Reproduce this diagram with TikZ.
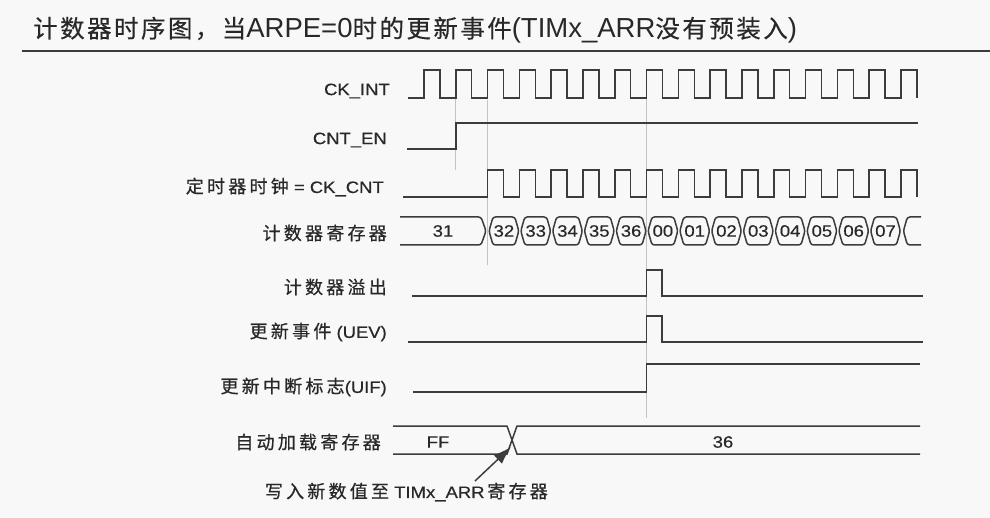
\documentclass[tikz,border=0pt]{standalone}
\usepackage{fontspec}
\setmainfont{Liberation Sans}
\newfontfamily\lblfont{Liberation Sans}[FakeStretch=1.12, FakeBold=0.4]
\newfontfamily\zhfont{Noto Sans CJK SC}[LetterSpace=18, FakeBold=0.6]
\newfontfamily\titlezhfont{Noto Sans CJK SC}[LetterSpace=10, FakeBold=0.4]
\newcommand\zl[1]{{\zhfont\fontsize{18}{20}\selectfont #1}}
\newcommand\tz[1]{{\titlezhfont\fontsize{24.5}{28}\selectfont #1}}
\usetikzlibrary{arrows.meta}
\definecolor{bgcol}{RGB}{248,248,248}
\definecolor{ink}{RGB}{60,60,60}
\definecolor{txt}{RGB}{40,40,40}
\definecolor{guide}{RGB}{195,195,195}

\begin{document}
\begin{tikzpicture}[x=1pt, y=-1pt,
    sig/.style={ink, line width=1.5pt},
    guideline/.style={guide, line width=0.8pt},
    lbl/.style={anchor=east, inner sep=0pt, text=txt, font=\lblfont\fontsize{16.5}{18}\selectfont},
    val/.style={inner sep=0pt, text=txt, font=\lblfont\fontsize{16.5}{18}\selectfont},
    regbox/.style={sig, rounded corners=2.5pt}]
    \def\T{31.8}
    \fill[bgcol] (0,0) rectangle (990,518);
    \useasboundingbox (0,0) rectangle (990,518);

    \node[anchor=west, inner sep=0pt, text=txt, font=\fontsize{27.5}{30}\selectfont] (title) at (33,30)
        {\tz{计数器时序图，当}ARPE=0\tz{时的更新事件}(TIMx\_ARR\tz{没有预装入})};
    \draw[ink, line width=2.5pt] (22,51) -- (990,51);

    \node[lbl] (ckint) at (390,91) {CK\_INT};
    \node[lbl] (cnten) at (387,140) {CNT\_EN};
    \node[lbl] (ckcnt) at (384,187) {\zl{定时器时钟} = CK\_CNT};
    \node[lbl] (cntreg) at (387,233) {\zl{计数器寄存器}};
    \node[lbl] (ovf) at (387,287) {\zl{计数器溢出}};
    \node[lbl] (uev) at (387,332) {\zl{更新事件} (UEV)};
    \node[lbl] (uif) at (387,387) {\zl{更新中断标志}(UIF)};
    \node[lbl] (arr) at (381,442) {\zl{自动加载寄存器}};
    \node[lbl] (note) at (548,492) {\zl{写入新数值至} TIMx\_ARR\,\zl{寄存器}};

    \draw[guideline] ({424+\T},97) -- ({424+\T},170);
    \draw[guideline] ({424+2*\T},100) -- ({424+2*\T},265);
    \draw[guideline] ({424+7*\T},95) -- ({424+7*\T},418);

    \draw[sig] (408,98) -- (424,98)
        \foreach \k in {0,...,15} { -- ({424+\k*\T},98) -- ({424+\k*\T},70) -- ({424+(\k+0.5)*\T},70) -- ({424+(\k+0.5)*\T},98) };
    \draw[sig] (407,149) -- ({424+\T},149) -- ({424+\T},123) -- (918,123);
    \draw[sig] (403,197)
        \foreach \k in {2,...,15} { -- ({424+\k*\T},197) -- ({424+\k*\T},170) -- ({424+(\k+0.5)*\T},170) -- ({424+(\k+0.5)*\T},197) };

    \draw[regbox] (400,217) -- (481,217) -- (486,231) -- (481,245) -- (400,245);
    \node[val] (v31) at (443,231) {31};
    \foreach \v [count=\i from 0] in {32,33,34,35,36,00,01,02,03,04,05,06,07} {
        \pgfmathsetmacro\xa{488+\i*\T}
        \draw[regbox] (\xa+1,231) -- (\xa+5,217) -- (\xa+\T-5,217) -- (\xa+\T-1,231) -- (\xa+\T-5,245) -- (\xa+5,245) -- cycle;
        \node[val] (v\i) at (\xa+\T/2,231) {\v};
    }
    \draw[regbox] (921,217) -- ({488+13*\T+6},217) -- ({488+13*\T+2},231) -- ({488+13*\T+6},245) -- (921,245);

    \draw[sig] (412,296) -- ({424+7*\T},296) -- ({424+7*\T},270) -- (662,270) -- (662,296) -- (923,296);
    \draw[sig] (408,342) -- ({424+7*\T},342) -- ({424+7*\T},316) -- (662,316) -- (662,342) -- (923,342);
    \draw[sig] (413,392) -- ({424+7*\T},392) -- ({424+7*\T},364) -- (920,364);

    \draw[sig] (393,426) -- (507,426) -- (517,454) -- (920,454);
    \draw[sig] (393,454) -- (507,454) -- (517,426) -- (920,426);
    \node[val] (ffval) at (438,442) {FF};
    \node[val] (newval) at (723,442) {36};

    \coordinate (wrtail) at (475,481);
    \coordinate (wrtip) at (511,447);
    \draw[sig, -{Latex[length=18pt,width=12pt]}] (wrtail) -- (wrtip);
\end{tikzpicture}
\end{document}
